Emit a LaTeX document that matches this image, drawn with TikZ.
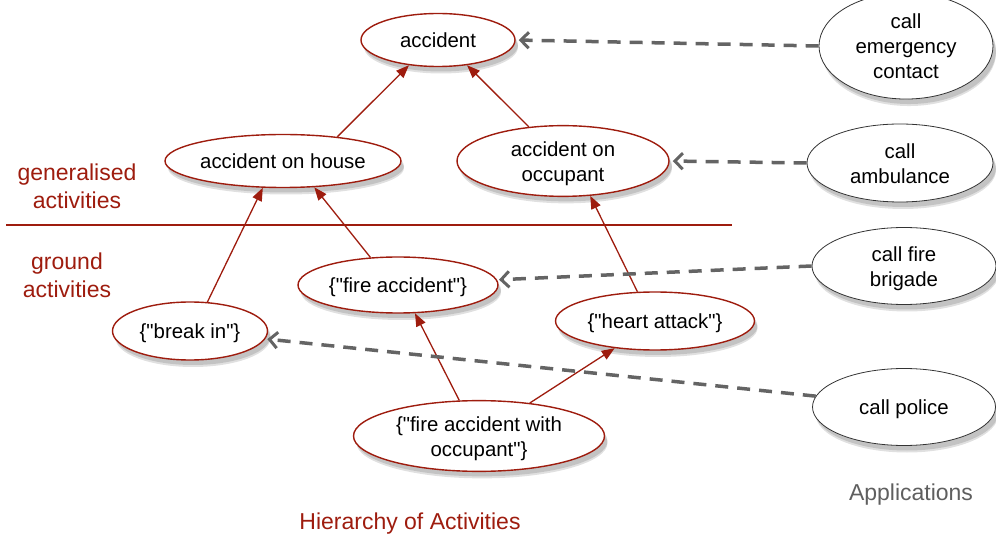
\documentclass[tikz,border=0pt]{standalone}
\usepackage{fontspec}
\setmainfont{Liberation Sans}[Ligatures=TeXOff]
\usetikzlibrary{shapes.geometric,arrows.meta,shadows}
\definecolor{dred}{RGB}{158,28,14}
\definecolor{dgray}{RGB}{100,100,100}
\definecolor{agray}{RGB}{95,95,95}
\newcommand\lowtxt[1]{\raisebox{-3pt}[\height][\depth]{\begin{tabular}{@{}c@{}}#1\end{tabular}}}
\begin{document}
\begin{tikzpicture}[x=1pt,y=-1pt,
  font=\fontsize{20.4}{25}\selectfont,
  shadowed/.style={drop shadow={shadow xshift=3pt,shadow yshift=-5pt,opacity=0.13,fill=black},
                   drop shadow={shadow xshift=3pt,shadow yshift=-7pt,opacity=0.12,fill=black}},
  act/.style={ellipse,draw=dred,line width=1.4pt,fill=white,inner sep=0pt,shadowed},
  app/.style={ellipse,draw=black!80,line width=0.8pt,fill=white,inner sep=0pt,shadowed},
  isa/.style={draw=dred,line width=1.3pt,-{Triangle[length=13pt,width=10pt]}},
  uses/.style={draw=dgray,line width=3.5pt,dash pattern=on 13pt off 9pt,-{Straight Barb[length=8pt,width=16pt,line width=3pt]}},
  lbl/.style={text=dred,font=\fontsize{23}{28}\selectfont,align=center}]
\useasboundingbox (0,0) rectangle (996,534);
\node[act,minimum width=154pt,minimum height=53pt] (acc) at (438,40) {\lowtxt{accident}};
\node[act,minimum width=236pt,minimum height=53pt] (house) at (283,161) {\lowtxt{accident on house}};
\node[act,minimum width=212pt,minimum height=69pt] (occ) at (563,161) {\lowtxt{accident on\\occupant}};
\node[act,minimum width=200pt,minimum height=56pt] (fire) at (398,285) {\lowtxt{\{"fire accident"\}}};
\node[act,minimum width=155pt,minimum height=58pt] (brk) at (190,331) {\lowtxt{\{"break in"\}}};
\node[act,minimum width=199pt,minimum height=58pt] (heart) at (655,321) {\lowtxt{\{"heart attack"\}}};
\node[act,minimum width=251pt,minimum height=68pt] (fawo) at (479,436) {\lowtxt{\{"fire accident with\\occupant"\}}};
\node[app,minimum width=174pt,minimum height=80pt] (emerg) at (906,46) {\lowtxt{call\\emergency\\contact}};
\node[app,minimum width=186pt,minimum height=78pt] (amb) at (900,163) {\lowtxt{call\\ambulance}};
\node[app,minimum width=184pt,minimum height=77pt] (brig) at (904,266) {\lowtxt{call fire\\brigade}};
\node[app,minimum width=183pt,minimum height=77pt] (pol) at (904,407) {\lowtxt{call police}};
\node[lbl] (gen) at (77,186) {generalised\\activities};
\node[lbl] (gnd) at (67,275) {ground\\activities};
\node[lbl] (hier) at (410,524) {Hierarchy of Activities};
\node[text=agray,font=\fontsize{23}{28}\selectfont] (apps) at (911,495) {Applications};
\coordinate (sepL) at (6,225);
\coordinate (sepR) at (732,225);
\draw[dred,line width=1.3pt] (sepL) -- (sepR);
\draw[isa] (house.24) -- (acc.221);
\draw[isa] (occ.135) -- (acc.319);
\draw[isa] (brk.59) -- (house.233);
\draw[isa] (fire.135) -- (house.320);
\draw[isa] (heart.121) -- (occ.308);
\draw[isa] (fawo.119) -- (fire.301);
\draw[isa] (fawo.33) -- (heart.214);
\draw[uses,shorten >=3pt] (emerg.west) -- (acc.east);
\draw[uses,shorten >=3pt] (amb.west) -- (occ.east);
\draw[uses,shorten >=2pt] (brig.west) -- (fire.3);
\draw[uses,shorten >=2pt] (pol.173) -- (brk.354);
\end{tikzpicture}
\end{document}
